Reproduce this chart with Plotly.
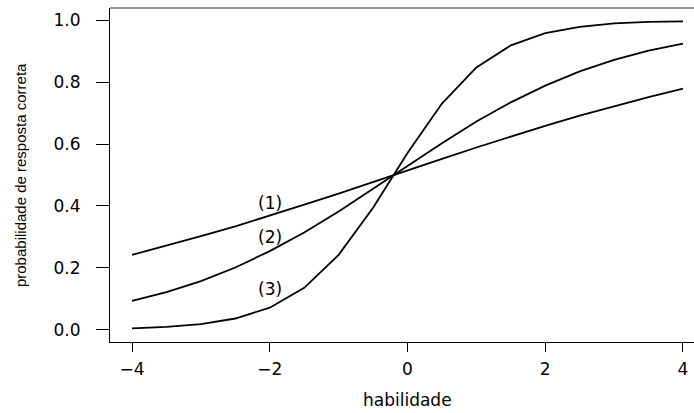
import plotly.graph_objects as go

habilidade = [-4.0, -3.5, -3.0, -2.5, -2.0, -1.5, -1.0, -0.5, 0.0, 0.5, 1.0, 1.5, 2.0, 2.5, 3.0, 3.5, 4.0]
item1 = [0.242, 0.271, 0.302, 0.334, 0.368, 0.404, 0.440, 0.478, 0.515, 0.552, 0.589, 0.625, 0.659, 0.692, 0.723, 0.752, 0.779]
item2 = [0.093, 0.121, 0.157, 0.201, 0.254, 0.314, 0.382, 0.455, 0.530, 0.603, 0.673, 0.735, 0.789, 0.835, 0.872, 0.902, 0.925]
item3 = [0.004, 0.009, 0.018, 0.036, 0.071, 0.135, 0.242, 0.394, 0.571, 0.731, 0.848, 0.919, 0.959, 0.979, 0.990, 0.995, 0.997]
labels = ["(1)", "(2)", "(3)"]
label_x = [-2.0, -2.0, -2.0]
label_y = [0.41, 0.30, 0.132]
xticks = [-4, -2, 0, 2, 4]
yticks = [0.0, 0.2, 0.4, 0.6, 0.8, 1.0]

WIDE = "DejaVu Sans, Verdana, sans-serif"
NARROW = "Liberation Sans, Arial, sans-serif"

fig = go.Figure()
for ys in (item1, item2, item3):
    fig.add_trace(go.Scatter(x=habilidade, y=ys, mode="lines",
                             line=dict(color="black", width=1.8),
                             showlegend=False, hoverinfo="skip"))

for t, lx, ly in zip(labels, label_x, label_y):
    fig.add_annotation(x=lx, y=ly, xref="x", yref="y", text=t, showarrow=False,
                       font=dict(family=WIDE, size=17, color="black"))

fig.add_annotation(x=0, y=-0.174, xref="x", yref="paper", text="habilidade",
                   showarrow=False, font=dict(family=WIDE, size=17, color="black"),
                   yanchor="middle")
fig.add_annotation(x=-0.154, y=0.5, xref="paper", yref="paper",
                   text="probabilidade de resposta correta", textangle=-90,
                   showarrow=False, font=dict(family=NARROW, size=15, color="black"),
                   xanchor="center", yanchor="middle")

# top border of the box
fig.add_shape(type="line", xref="paper", yref="paper", x0=0, x1=1, y0=1, y1=1,
              line=dict(color="#333333", width=1))

fig.update_layout(
    width=694, height=413,
    margin=dict(l=110, r=0, t=8, b=71),
    paper_bgcolor="white", plot_bgcolor="white",
    font=dict(family=WIDE, color="black"),
)
fig.update_xaxes(range=[-4.32, 4.16], tickvals=xticks,
                 ticktext=[str(v).replace("-", "\u2212") for v in xticks],
                 showgrid=False, zeroline=False, showline=True, linecolor="black",
                 linewidth=1, ticks="outside", ticklen=9, tickcolor="black",
                 tickfont=dict(family=WIDE, size=17), ticklabelstandoff=3)
fig.update_yaxes(range=[-0.04, 1.04], tickvals=yticks,
                 ticktext=[f"{v:.1f}" for v in yticks],
                 showgrid=False, zeroline=False, showline=True, linecolor="black",
                 linewidth=1, ticks="outside", ticklen=13, tickcolor="black",
                 tickfont=dict(family=WIDE, size=17), ticklabelstandoff=12)

fig.write_html("out.html", config={"displayModeBar": False},
               post_script="document.body.style.margin='0';document.body.style.overflow='hidden';")
